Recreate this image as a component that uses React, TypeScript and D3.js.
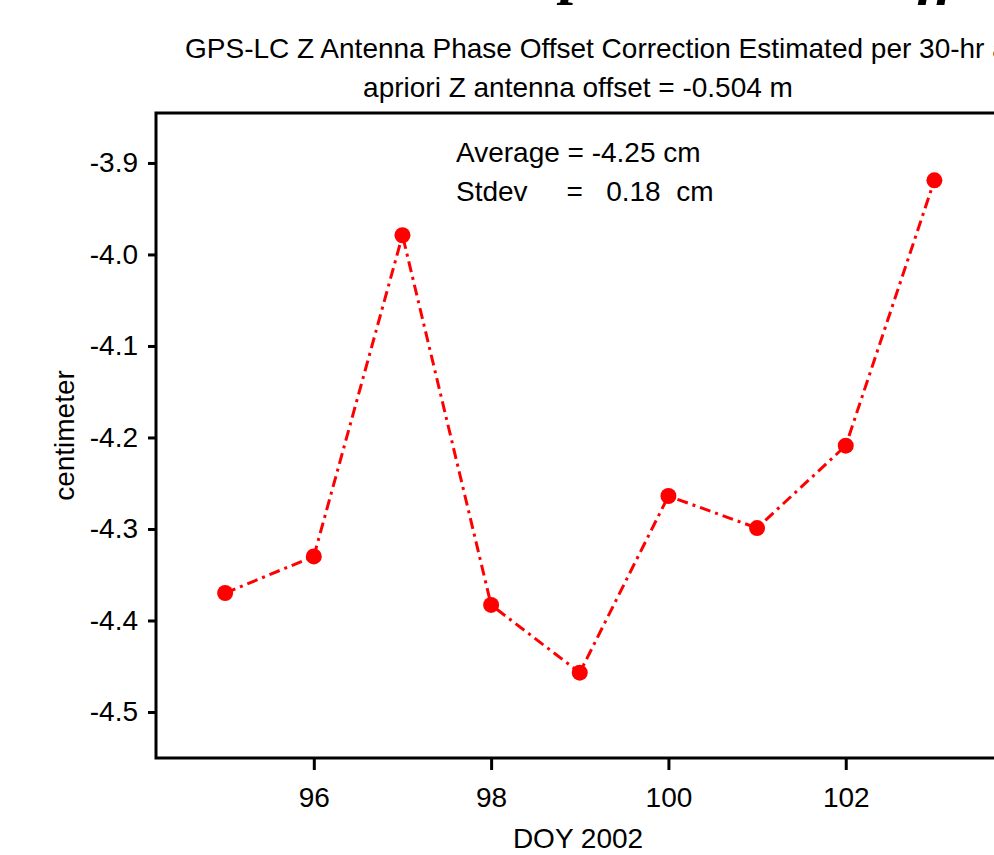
import React, { useEffect, useRef } from 'react'
import * as d3 from 'd3'

// day of year 2002 and Z phase offset correction (cm)
const days = [95, 96, 97, 98, 99, 100, 101, 102, 103]
const offsets = [-4.37, -4.33, -3.979, -4.383, -4.457, -4.264, -4.299, -4.209, -3.919]
const yTicks = [-3.9, -4.0, -4.1, -4.2, -4.3, -4.4, -4.5]
const xTicks = [96, 98, 100, 102]

const W = 994
const H = 855
const left = 156
const top = 113
const right = 1000
const bottom = 758
const sans = 'Liberation Sans, Arial, sans-serif'
const fs = 28

function App() {
  const ref = useRef<SVGSVGElement>(null)

  useEffect(() => {
    const svg = d3.select(ref.current)
    svg.selectAll('*').remove()

    const x = d3.scaleLinear().domain([94.22, 103.74]).range([left, right])
    const y = d3.scaleLinear().domain([-4.5503, -3.8454]).range([bottom, top])

    // big title, mostly cut off above the frame
    svg
      .append('text')
      .attr('x', 561)
      .attr('y', -8)
      .attr('font-family', 'Liberation Serif, Times New Roman, serif')
      .attr('font-weight', 'bold')
      .attr('font-style', 'italic')
      .attr('font-size', 60)
      .text('phase center offset')

    svg
      .append('text')
      .attr('x', 185)
      .attr('y', 58)
      .attr('font-family', sans)
      .attr('font-size', fs)
      .text('GPS-LC Z Antenna Phase Offset Correction Estimated per 30-hr arc')

    svg
      .append('text')
      .attr('x', (left + right) / 2)
      .attr('y', 97)
      .attr('text-anchor', 'middle')
      .attr('font-family', sans)
      .attr('font-size', fs)
      .text('apriori Z antenna offset = -0.504 m')

    // frame
    svg
      .append('rect')
      .attr('x', left)
      .attr('y', top)
      .attr('width', right - left)
      .attr('height', bottom - top)
      .attr('fill', 'none')
      .attr('stroke', '#000')
      .attr('stroke-width', 3)

    const yAxis = svg
      .append('g')
      .attr('transform', `translate(${left},0)`)
      .call(
        d3
          .axisLeft(y)
          .tickValues(yTicks)
          .tickSize(8)
          .tickPadding(10)
          .tickFormat((d) => (d as number).toFixed(1))
      )
    yAxis.select('.domain').remove()
    yAxis.selectAll('line').attr('stroke-width', 3)
    yAxis.selectAll('text').attr('font-family', sans).attr('font-size', fs).attr('fill', '#000')

    const xAxis = svg
      .append('g')
      .attr('transform', `translate(0,${bottom})`)
      .call(d3.axisBottom(x).tickValues(xTicks).tickSize(12).tickPadding(17).tickFormat(d3.format('d')))
    xAxis.select('.domain').remove()
    xAxis.selectAll('line').attr('stroke-width', 3)
    xAxis.selectAll('text').attr('font-family', sans).attr('font-size', fs).attr('fill', '#000')

    svg
      .append('text')
      .attr('x', (left + right) / 2)
      .attr('y', 848)
      .attr('text-anchor', 'middle')
      .attr('font-family', sans)
      .attr('font-size', fs)
      .text('DOY 2002')

    svg
      .append('text')
      .attr('transform', `translate(74,${(top + bottom) / 2}) rotate(-90)`)
      .attr('text-anchor', 'middle')
      .attr('font-family', sans)
      .attr('font-size', fs)
      .text('centimeter')

    svg
      .append('text')
      .attr('x', 456)
      .attr('y', 162)
      .attr('font-family', sans)
      .attr('font-size', fs)
      .text('Average = -4.25 cm')

    svg
      .append('text')
      .attr('x', 456)
      .attr('y', 201)
      .attr('font-family', sans)
      .attr('font-size', fs)
      .style('white-space', 'pre')
      .text('Stdev     =   0.18  cm')

    const pts = days.map((d, i) => [d, offsets[i]] as [number, number])
    const line = d3
      .line<[number, number]>()
      .x((d) => x(d[0]))
      .y((d) => y(d[1]))

    svg
      .append('path')
      .datum(pts)
      .attr('d', line)
      .attr('fill', 'none')
      .attr('stroke', '#ff0000')
      .attr('stroke-width', 3)
      .attr('stroke-dasharray', '11,5,3,5')

    svg
      .selectAll('circle.pt')
      .data(pts)
      .enter()
      .append('circle')
      .attr('class', 'pt')
      .attr('cx', (d) => x(d[0]))
      .attr('cy', (d) => y(d[1]))
      .attr('r', 8)
      .attr('fill', '#ff0000')
  }, [])

  return (
    <svg
      ref={ref}
      width={W}
      height={H}
      viewBox={`0 0 ${W} ${H}`}
      style={{ position: 'absolute', left: 0, top: 0, background: '#fff', overflow: 'hidden' }}
    />
  )
}

export default App
